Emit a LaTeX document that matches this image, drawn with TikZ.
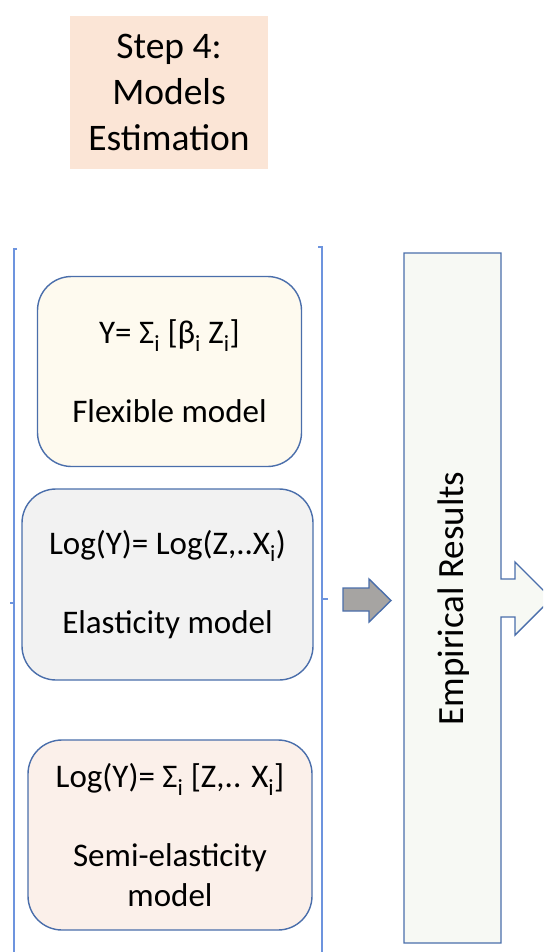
\documentclass[tikz,border=0pt]{standalone}
\usepackage{fontspec}
\setmainfont{Carlito}
\definecolor{stepfill}{HTML}{FBE5D6}
\definecolor{flexfill}{HTML}{FEFAEF}
\definecolor{elasfill}{HTML}{F2F2F2}
\definecolor{semifill}{HTML}{FBF0EA}
\definecolor{resfill}{HTML}{F7F9F4}
\definecolor{edgeblue}{HTML}{4A6EAB}
\definecolor{bracketblue}{HTML}{6D94DE}
\definecolor{arrowgray}{HTML}{A6A4A2}
\begin{document}
\begin{tikzpicture}[x=1pt,y=-1pt,
  modelbox/.style={draw=edgeblue,line width=1.4pt,rounded corners=34pt,
    align=center,inner sep=0pt,font=\fontsize{33}{39.5}\selectfont},
  bracketline/.style={draw=bracketblue,line width=2pt},
  blockarrow/.style={draw=edgeblue,line width=1.4pt,line join=miter}]
\useasboundingbox (0,0) rectangle (543,952);
\clip (0,0) rectangle (543,952);

% step title
\node[fill=stepfill,minimum width=198pt,minimum height=153pt,inner sep=0pt,
  align=center,font=\fontsize{37.5}{46}\selectfont] (step) at (169,92.5)
  {Step 4:\\Models\\Estimation};

% bracket enclosing the three models
\draw[bracketline] (17,249) -- (14,249) -- (14,960);
\draw[bracketline] (10,603) -- (14,603);
\draw[bracketline] (318,247) -- (322,247) -- (322,960);
\draw[bracketline] (322,599) -- (328,599);
\coordinate (groupR) at (322,599);

% model boxes
\node[modelbox,fill=flexfill,minimum width=264pt,minimum height=190pt] (flex) at (169.5,371.5)
  {Y= Σ\textsubscript{i} [β\textsubscript{i} Z\textsubscript{i}]\\[39.5pt]Flexible model};
\node[modelbox,fill=elasfill,minimum width=291pt,minimum height=191pt] (elas) at (167.5,584.5)
  {Log(Y)= Log(Z,..X\textsubscript{i})\\[39.5pt]Elasticity model};
\node[modelbox,fill=semifill,minimum width=284pt,minimum height=190pt] (semi) at (170,835)
  {Log(Y)= Σ\textsubscript{i} [Z,.. X\textsubscript{i}]\\[39.5pt]Semi-elasticity\\model};

% empirical results box with arrow callout on the right
\draw[blockarrow,fill=resfill] (404,253) -- (501,253) -- (501,579) -- (515,579) -- (515,562)
  -- (551.5,598.5) -- (515,635) -- (515,617) -- (501,617) -- (501,943) -- (404,943) -- cycle;
\node[rotate=90,font=\fontsize{37}{44}\selectfont,inner sep=0pt] (res) at (454,598.5) {Empirical Results};
\coordinate (resL) at (404,600);

% gray block arrow into the results box
\draw[blockarrow,fill=arrowgray] (343,588) -- (369,588) -- (369,579) -- (391,600.5)
  -- (369,622) -- (369,611) -- (343,611) -- cycle;
\end{tikzpicture}
\end{document}
